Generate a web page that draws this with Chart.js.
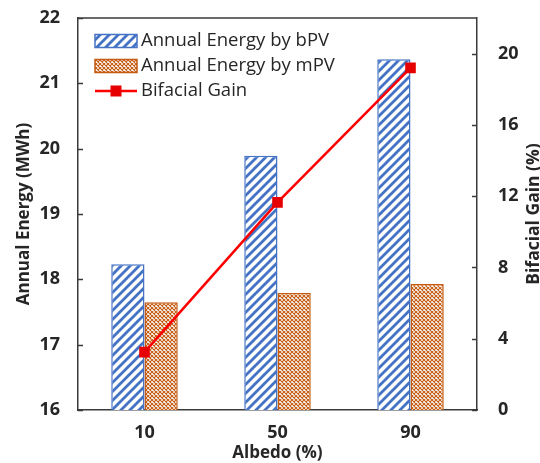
<!DOCTYPE html>
<html>
<head>
<meta charset="utf-8">
<script src="https://cdn.jsdelivr.net/npm/chart.js@4.4.1/dist/chart.umd.min.js"></script>
<style>
  html, body { margin: 0; padding: 0; background: #fff; }
  #wrap { width: 540px; height: 463px; position: relative; }
</style>
</head>
<body>
<div id="wrap"><canvas id="myChart"></canvas></div>
<script>
// data
const albedo = ['10', '50', '90'];
const energyBPV = [18.23, 19.89, 21.37];
const energyMPV = [17.65, 17.79, 17.93];
const bifacialGain = [3.25, 11.65, 19.2];
const energyTicks = [16, 17, 18, 19, 20, 21, 22];
const gainTicks = [0, 4, 8, 12, 16, 20];

const FONT = "'Open Sans', sans-serif";
const INK = '#262626';
const AXIS = '#3a3a3a';
const BLUE = '#4472C4';
const BROWN = '#C55A11';
const RED = '#FF0000';

// hatch fills
function stripes(color) {
    const c = document.createElement('canvas');
    const s = 9;
    c.width = s; c.height = s;
    const g = c.getContext('2d');
    g.fillStyle = '#fff';
    g.fillRect(0, 0, s, s);
    g.strokeStyle = color;
    g.lineWidth = 2.8;
    g.beginPath();
    g.moveTo(-2, s + 2); g.lineTo(s + 2, -2);
    g.moveTo(-2, 2); g.lineTo(2, -2);
    g.moveTo(s - 2, s + 2); g.lineTo(s + 2, s - 2);
    g.stroke();
    return g.createPattern(c, 'repeat');
}

function lattice(color) {
    const c = document.createElement('canvas');
    const s = 4;
    c.width = s; c.height = s;
    const g = c.getContext('2d');
    g.fillStyle = '#fff';
    g.fillRect(0, 0, s, s);
    g.strokeStyle = color;
    g.lineWidth = 1.1;
    g.beginPath();
    g.moveTo(0, 0); g.lineTo(s, s);
    g.moveTo(0, s); g.lineTo(s, 0);
    g.stroke();
    return g.createPattern(c, 'repeat');
}

const bpvFill = stripes(BLUE);
const mpvFill = lattice(BROWN);

// box on top, inward ticks, legend and right title
const frame = {
    id: 'frame',
    afterDraw(chart) {
        const ctx = chart.ctx;
        const a = chart.chartArea;
        const y = chart.scales.y, y1 = chart.scales.y1;
        ctx.save();
        ctx.strokeStyle = AXIS;
        ctx.lineWidth = 1.5;
        ctx.beginPath();
        ctx.moveTo(a.left, a.top);
        ctx.lineTo(a.right, a.top);
        energyTicks.forEach(v => {
            const p = Math.round(y.getPixelForValue(v)) + 0.5;
            ctx.moveTo(a.left, p); ctx.lineTo(a.left + 5, p);
        });
        gainTicks.forEach(v => {
            const p = Math.round(y1.getPixelForValue(v)) + 0.5;
            ctx.moveTo(a.right, p); ctx.lineTo(a.right - 5, p);
        });
        ctx.stroke();

        // legend
        const lx = a.left + 17;
        chart.data.datasets.forEach((ds, i) => {
            const cy = a.top + 23 + i * 25;
            if (ds.type === 'line') {
                ctx.strokeStyle = ds.borderColor;
                ctx.lineWidth = 2.5;
                ctx.beginPath();
                ctx.moveTo(lx, cy); ctx.lineTo(lx + 42, cy);
                ctx.stroke();
                ctx.fillStyle = ds.pointBackgroundColor;
                ctx.fillRect(lx + 21 - 5.5, cy - 5.5, 11, 11);
            } else {
                ctx.fillStyle = ds.backgroundColor;
                ctx.fillRect(lx, cy - 6.5, 42, 13);
                ctx.strokeStyle = ds.borderColor;
                ctx.lineWidth = 1.5;
                ctx.strokeRect(lx, cy - 6.5, 42, 13);
            }
            ctx.fillStyle = INK;
            ctx.font = '18.5px ' + FONT;
            ctx.textBaseline = 'middle';
            ctx.textAlign = 'left';
            ctx.fillText(ds.label, lx + 46, cy);
        });

        // right axis title, read bottom to top
        ctx.translate(534, (a.top + a.bottom) / 2);
        ctx.rotate(-Math.PI / 2);
        ctx.font = 'bold 17.5px ' + FONT;
        ctx.textAlign = 'center';
        ctx.textBaseline = 'middle';
        ctx.fillStyle = INK;
        ctx.fillText('Bifacial Gain (%)', 0, 0);
        ctx.restore();
    }
};

const tickFont = { family: FONT, size: 18, weight: 'bold' };
const titleFont = { family: FONT, size: 17, weight: 'bold' };

let ctx = document.getElementById('myChart').getContext('2d');
let chart = new Chart(ctx, {
    type: 'bar',
    data: {
        labels: albedo,
        datasets: [
            {
                label: 'Annual Energy by bPV',
                data: energyBPV,
                backgroundColor: bpvFill,
                borderColor: BLUE,
                borderWidth: 1.5,
                yAxisID: 'y',
                order: 2
            },
            {
                label: 'Annual Energy by mPV',
                data: energyMPV,
                backgroundColor: mpvFill,
                borderColor: BROWN,
                borderWidth: 1.5,
                yAxisID: 'y',
                order: 2
            },
            {
                type: 'line',
                label: 'Bifacial Gain',
                data: bifacialGain,
                borderColor: RED,
                borderWidth: 2.5,
                pointStyle: 'rect',
                pointRadius: 7.5,
                pointBackgroundColor: '#E60000',
                pointBorderColor: '#E60000',
                pointBorderWidth: 0,
                yAxisID: 'y1',
                order: 0
            }
        ]
    },
    options: {
        responsive: true,
        maintainAspectRatio: false,
        animation: false,
        devicePixelRatio: 1,
        categoryPercentage: 0.5,
        barPercentage: 1.0,
        layout: { padding: { top: 18, left: 0, right: 0, bottom: 0 } },
        plugins: {
            legend: { display: false },
            tooltip: { enabled: false }
        },
        scales: {
            x: {
                grid: { display: false, drawTicks: false },
                border: { color: AXIS, width: 1.5 },
                ticks: { font: tickFont, color: INK, padding: 12 },
                title: {
                    display: true,
                    text: 'Albedo (%)',
                    font: titleFont,
                    color: INK,
                    padding: { top: 0, bottom: 0 }
                },
                afterFit(s) { s.height = 53; }
            },
            y: {
                position: 'left',
                min: 16,
                max: 22,
                grid: { display: false, drawTicks: false },
                border: { color: AXIS, width: 1.5 },
                ticks: { stepSize: 1, font: tickFont, color: INK, padding: 18 },
                afterBuildTicks(s) { s.ticks = energyTicks.map(v => ({ value: v })); },
                title: {
                    display: true,
                    text: 'Annual Energy (MWh)',
                    font: titleFont,
                    color: INK,
                    padding: { top: 14, bottom: 0 }
                },
                afterFit(s) { s.width = 78; s.paddingTop = 0; s.paddingBottom = 0; }
            },
            y1: {
                position: 'right',
                min: 0,
                max: 22,
                grid: { display: false, drawTicks: false },
                border: { color: AXIS, width: 1.5 },
                ticks: { font: tickFont, color: INK, padding: 21 },
                afterBuildTicks(s) { s.ticks = gainTicks.map(v => ({ value: v })); },
                afterFit(s) { s.width = 63; s.paddingTop = 0; s.paddingBottom = 0; }
            }
        }
    },
    plugins: [frame]
});
</script>
</body>
</html>
